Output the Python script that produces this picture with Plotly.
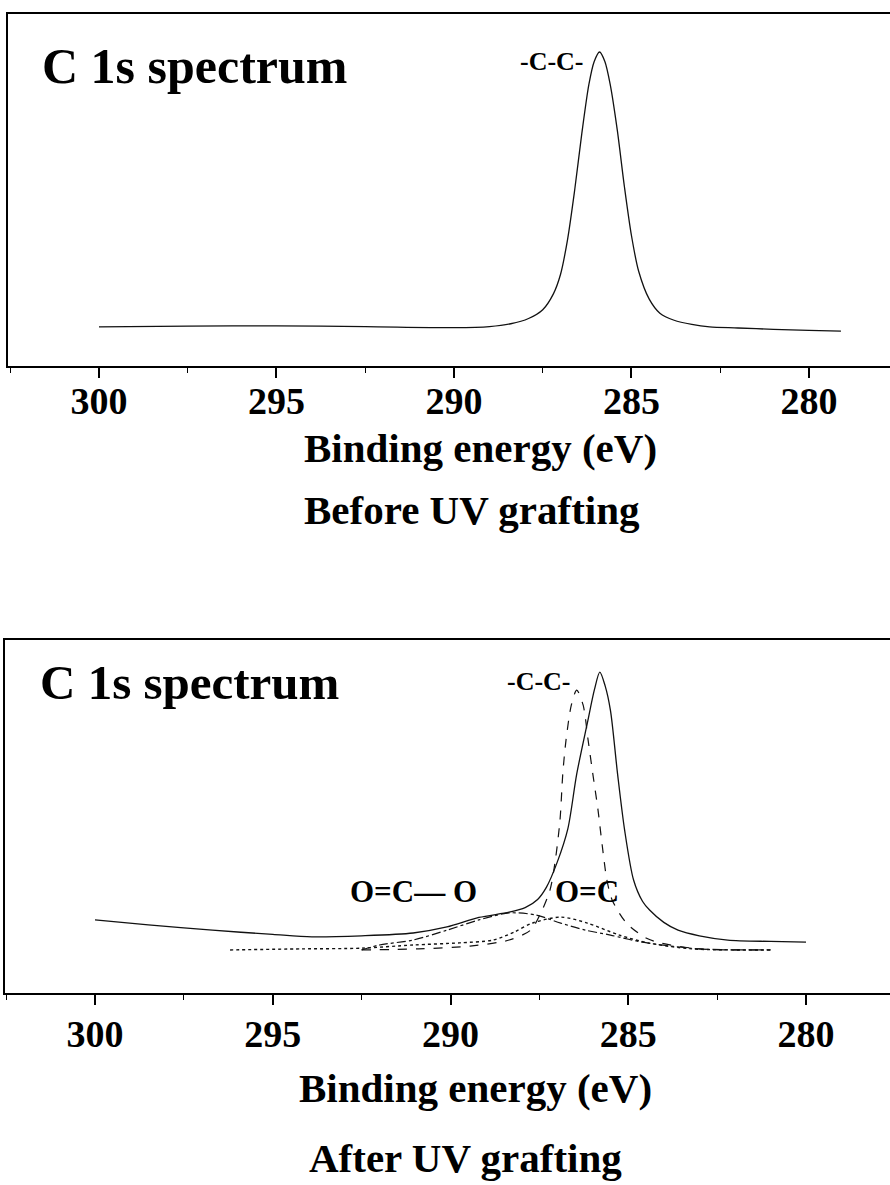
import plotly.graph_objects as go

# ---------------- data ----------------
# Before UV grafting: C 1s spectrum
before_energy = [300.0, 297.5, 295.0, 292.5, 290.0, 289.0, 288.4, 287.9, 287.5, 287.2,
                 287.0, 286.8, 286.6, 286.4, 286.2, 286.05, 285.9, 285.75, 285.6, 285.4,
                 285.2, 285.0, 284.8, 284.5, 284.2, 283.8, 283.3, 282.8, 282.0, 281.0,
                 280.0, 279.1]
before_counts = [11.1, 11.3, 11.4, 11.2, 10.9, 11.2, 12.0, 13.5, 16.0, 20.5,
                 26.0, 36.0, 50.0, 66.0, 80.0, 86.5, 89.2, 86.5, 80.0, 67.0,
                 51.0, 37.0, 27.0, 19.0, 15.0, 13.0, 11.8, 11.1, 10.8, 10.4,
                 10.1, 9.9]

# After UV grafting: measured envelope
after_energy = [300.0, 298.5, 296.7, 295.0, 293.9, 292.5, 291.05, 290.1, 289.2, 288.35,
                287.9, 287.55, 287.3, 287.0, 286.7, 286.45, 286.15, 285.95, 285.8, 285.65,
                285.5, 285.3, 285.1, 284.85, 284.6, 284.4, 284.0, 283.6, 283.0, 282.2,
                281.0, 280.0]
after_counts = [20.7, 19.3, 17.8, 16.6, 15.9, 16.2, 17.0, 18.7, 21.4, 22.9,
                24.2, 26.5, 30.0, 37.0, 46.5, 62.0, 76.5, 86.0, 90.9, 87.0,
                80.0, 62.0, 46.0, 32.0, 26.0, 23.5, 20.0, 17.8, 16.2, 15.0,
                14.6, 14.4]

# fitted components
cc_energy = [292.5, 290.9, 289.45, 288.35, 287.75, 287.45, 287.2, 287.05, 286.92, 286.84,
             286.75, 286.6, 286.45, 286.27, 286.13, 286.0, 285.85, 285.75, 285.6, 285.45,
             285.05, 284.5, 284.1, 283.0, 281.0]
cc_counts = [12.2, 12.5, 13.3, 15.0, 17.8, 22.9, 29.2, 37.7, 49.0, 62.3,
             71.7, 81.6, 85.8, 81.6, 71.7, 62.3, 51.8, 43.3, 32.0, 26.3,
             19.8, 15.6, 14.2, 12.5, 12.2]

oco_energy = [292.5, 292.0, 291.05, 290.1, 289.2, 288.35, 287.6, 286.9, 286.2, 285.5,
              284.6, 283.0, 281.0]
oco_counts = [12.2, 13.6, 15.0, 17.8, 20.7, 22.7, 22.1, 19.8, 17.8, 16.4,
              14.4, 12.5, 12.2]

oc_energy = [296.2, 294.2, 292.5, 291.05, 289.75, 288.8, 288.2, 287.7, 286.9, 286.15,
             285.25, 284.45, 283.2, 281.0]
oc_counts = [12.2, 12.5, 12.7, 13.6, 14.2, 15.0, 17.3, 19.8, 21.5, 19.8,
             16.4, 14.2, 12.5, 12.2]

tick_vals = [300, 295, 290, 285, 280]
tick_text = ["300", "295", "290", "285", "280"]

panel_title = "C 1s spectrum"
axis_title = "Binding energy (eV)"
caption_top = "Before UV grafting"
caption_bottom = "After UV grafting"
label_cc = "-C-C-"
label_oco = "O=C\u2014 O"
label_oc = "O=C"

# ---------------- layout helpers ----------------
W, H = 890, 1185
FONT = "Liberation Serif"


def px(x):
    return x / W


def py(y):
    return 1 - y / H


fig = go.Figure()
line_style = dict(color="#111111", width=1.3, shape="spline", smoothing=0.8)

fig.add_trace(go.Scatter(x=before_energy, y=before_counts, mode="lines",
                         line=line_style, xaxis="x", yaxis="y", showlegend=False))

fig.add_trace(go.Scatter(x=oc_energy, y=oc_counts, mode="lines",
                         line=dict(line_style, dash="dot", width=1.4),
                         xaxis="x2", yaxis="y2", showlegend=False))
fig.add_trace(go.Scatter(x=oco_energy, y=oco_counts, mode="lines",
                         line=dict(line_style, dash="dashdot", width=1.2),
                         xaxis="x2", yaxis="y2", showlegend=False))
fig.add_trace(go.Scatter(x=cc_energy, y=cc_counts, mode="lines",
                         line=dict(line_style, dash="dash", width=1.2),
                         xaxis="x2", yaxis="y2", showlegend=False))
fig.add_trace(go.Scatter(x=after_energy, y=after_counts, mode="lines",
                         line=line_style, xaxis="x2", yaxis="y2", showlegend=False))

xcommon = dict(
    showgrid=False, zeroline=False, showline=True, linecolor="black", linewidth=2,
    mirror=True, ticks="outside", ticklen=10, tickwidth=1.6, tickcolor="black",
    tickvals=tick_vals, ticktext=tick_text,
    tickfont=dict(family=FONT, size=38, color="black", weight="bold"),
    minor=dict(dtick=2.5, tick0=280, ticks="outside", ticklen=5, tickwidth=1.4,
               tickcolor="black", showgrid=False),
)
ycommon = dict(showgrid=False, zeroline=False, showline=True, linecolor="black",
               linewidth=2, mirror=False, showticklabels=False, ticks="",
               range=[0, 100])

fig.update_layout(
    width=W, height=H, margin=dict(l=0, r=0, t=0, b=0),
    paper_bgcolor="white", plot_bgcolor="white",
    xaxis=dict(xcommon, domain=[px(8), 1], range=[302.563, 277.718], anchor="y",
               ticklabelstandoff=-10),
    yaxis=dict(ycommon, domain=[py(366), py(14)], anchor="x"),
    xaxis2=dict(xcommon, domain=[px(5), 1], range=[302.532, 277.637], anchor="y2",
                ticklabelstandoff=-4),
    yaxis2=dict(ycommon, domain=[py(993), py(640)], anchor="x2"),
)


def text(s, x, y, size, xanchor="center"):
    fig.add_annotation(text=s, x=px(x), y=py(y), xref="paper", yref="paper",
                       xanchor=xanchor, yanchor="middle", showarrow=False,
                       font=dict(family=FONT, size=size, color="black", weight="bold"))


# top panel
text(panel_title, 40, 66, 50, xanchor="left")
text(label_cc, 552, 61, 26)
text(axis_title, 480, 448, 41)
text(caption_top, 472, 510, 41)

# bottom panel
text(panel_title, 38, 682, 49, xanchor="left")
text(label_cc, 539, 681, 26)
text(label_oco, 413, 891, 31)
text(label_oc, 587, 891, 31)
text(axis_title, 475, 1088, 41)
text(caption_bottom, 465, 1158, 41)

fig.write_html("out.html")
